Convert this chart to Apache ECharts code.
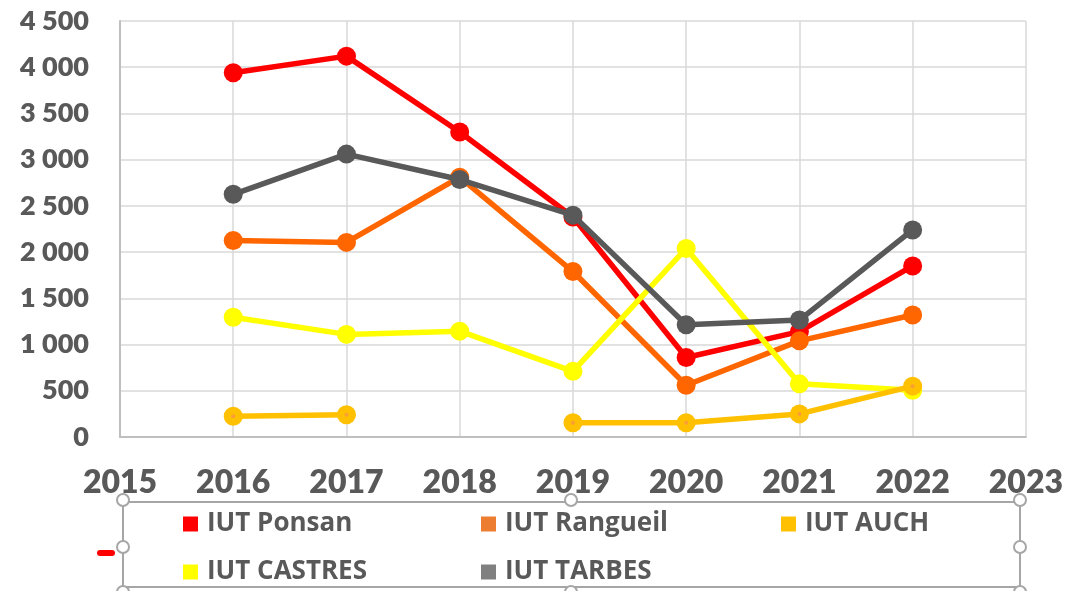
<!DOCTYPE html>
<html>
<head>
<meta charset="utf-8">
<script src="https://cdn.jsdelivr.net/npm/echarts@6/dist/echarts.min.js"></script>
<style>
  html, body { margin: 0; padding: 0; background: #fff; }
  #chart { width: 1066px; height: 591px; }
</style>
</head>
<body>
<div id="chart"></div>
<script>
const years = [2016, 2017, 2018, 2019, 2020, 2021, 2022];

const ponsan = [3940, 4120, 3300, 2380, 860, 1140, 1850];
const rangueil = [2125, 2105, 2810, 1790, 560, 1040, 1320];
const auch = [225, 240, null, 155, 155, 250, 550];
const castres = [1295, 1110, 1145, 710, 2040, 575, 505];
const tarbes = [2625, 3060, 2785, 2400, 1215, 1265, 2240];

const seriesNames = ['IUT Ponsan', 'IUT Rangueil', 'IUT AUCH', 'IUT CASTRES', 'IUT TARBES'];
const lineColors = ['#FF0000', '#FF6600', '#FFC000', '#FFFF00', '#595959'];
const legendColors = ['#FF0000', '#ED7D31', '#FFC000', '#FFFF00', '#808080'];

const font = 'Lato, "Open Sans", sans-serif';
const textGrey = '#595959';

const toPairs = vals => years.map((y, i) => [y, vals[i]]);

const makeLine = (name, vals, color, z) => ({
  name,
  type: 'line',
  data: toPairs(vals),
  z,
  symbol: 'circle',
  symbolSize: 19,
  connectNulls: false,
  lineStyle: { width: 5.5, color, join: 'round', cap: 'round' },
  itemStyle: { color }
});

// legend in two rows, three columns
const legendSlots = [[183, 511], [481, 511], [781, 511], [183, 559], [481, 559]];
const legends = seriesNames.map((name, i) => ({
  left: legendSlots[i][0],
  top: legendSlots[i][1],
  padding: 0,
  icon: 'rect',
  itemWidth: 15,
  itemHeight: 15,
  selectedMode: false,
  textStyle: { fontFamily: '"Open Sans", sans-serif', fontWeight: 'bold', fontSize: 26, color: textGrey, padding: [0, 0, 0, 4] },
  data: [{ name, itemStyle: { color: legendColors[i] } }]
}));

const handle = (x, y) => ({
  type: 'circle',
  shape: { cx: x, cy: y, r: 6 },
  style: { fill: '#fff', stroke: '#A6A6A6', lineWidth: 2 },
  z: 110
});

const chart = echarts.init(document.getElementById('chart'));
chart.setOption({
  animation: false,
  backgroundColor: '#fff',
  grid: { left: 120, right: 40, top: 21, bottom: 154 },
  legend: legends,
  xAxis: {
    type: 'value',
    min: 2015,
    max: 2023,
    interval: 1,
    axisLine: { show: true, lineStyle: { color: '#BFBFBF', width: 2 } },
    axisTick: { show: false },
    splitLine: { show: true, lineStyle: { color: '#D9D9D9', width: 1.5 } },
    axisLabel: {
      margin: 30,
      fontFamily: font,
      fontWeight: 800,
      fontSize: 32,
      color: textGrey,
      formatter: v => String(v)
    }
  },
  yAxis: {
    type: 'value',
    min: 0,
    max: 4500,
    interval: 500,
    axisLine: { show: true, lineStyle: { color: '#BFBFBF', width: 2 } },
    axisTick: { show: false },
    splitLine: { show: true, lineStyle: { color: '#D9D9D9', width: 1.5 } },
    axisLabel: {
      margin: 31,
      fontFamily: font,
      fontWeight: 800,
      fontSize: 27,
      color: textGrey,
      formatter: v => String(v).replace(/\B(?=(\d{3})+(?!\d))/g, ' ')
    }
  },
  series: [
    makeLine(seriesNames[0], ponsan, lineColors[0], 2),
    makeLine(seriesNames[1], rangueil, lineColors[1], 3),
    makeLine(seriesNames[3], castres, lineColors[3], 4),
    makeLine(seriesNames[2], auch, lineColors[2], 5),
    {
      name: 'auch-dot',
      type: 'scatter',
      data: toPairs(auch).filter(p => p[1] !== null),
      symbolSize: 4,
      itemStyle: { color: '#F79646' },
      silent: true,
      z: 6
    },
    makeLine(seriesNames[4], tarbes, lineColors[4], 7)
  ],
  graphic: [
    {
      type: 'rect',
      shape: { x: 123, y: 502, width: 897, height: 85 },
      style: { fill: 'none', stroke: '#A6A6A6', lineWidth: 2 },
      z: 100
    },
    handle(123, 500), handle(571, 500), handle(1020, 500),
    handle(123, 547), handle(1020, 547),
    handle(123, 592), handle(571, 592), handle(1020, 592),
    {
      type: 'rect',
      shape: { x: 97, y: 550, width: 18, height: 6, r: 3 },
      style: { fill: '#FF0000' },
      z: 105
    }
  ]
});
</script>
</body>
</html>
